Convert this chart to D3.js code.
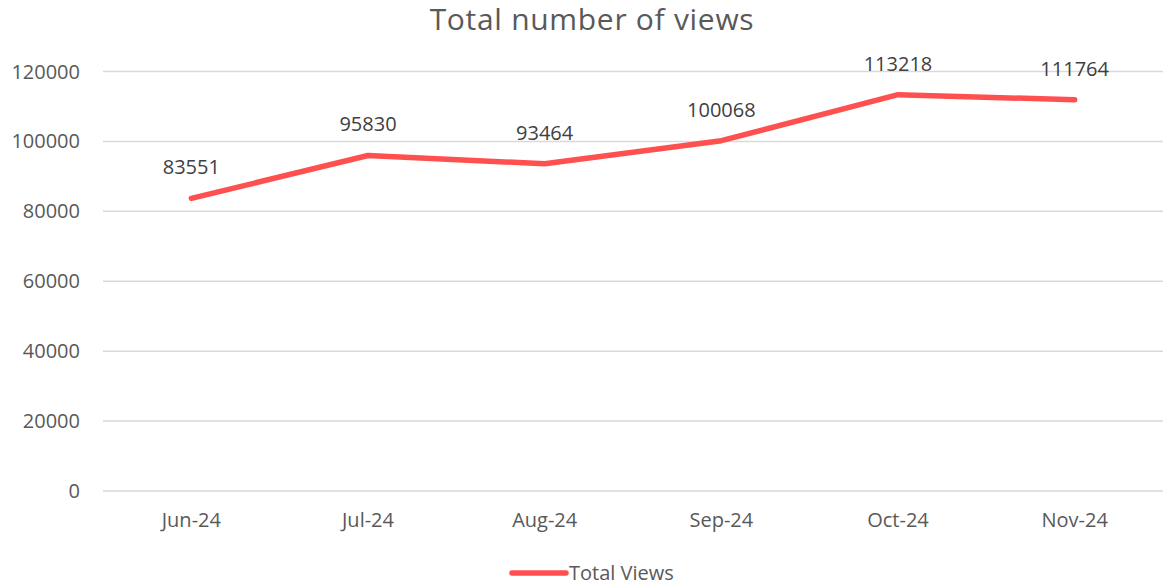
<!DOCTYPE html>
<html>
<head>
<meta charset="utf-8">
<script src="https://cdn.jsdelivr.net/npm/d3@7"></script>
<style>
  body { margin: 0; background: #fff; }
  svg, svg text { font-family: "Open Sans", sans-serif; }
  .tick text { fill: #595959; font-size: 20px; }
  .title { fill: #595959; font-size: 30px; letter-spacing: 0.7px; }
  .data-label { fill: #404040; font-size: 20px; }
  .legend-text { fill: #595959; font-size: 20px; }
</style>
</head>
<body>
<div class="viewsChart"></div>
<script>
var width = 1163,
height = 587,
xLeft = 103,
xRight = 1163,
yTop = 71,
yBottom = 490.5;

var months = ["Jun-24", "Jul-24", "Aug-24", "Sep-24", "Oct-24", "Nov-24"];
var views = [83551, 95830, 93464, 100068, 113218, 111764];
var yTicks = [0, 20000, 40000, 60000, 80000, 100000, 120000];
var seriesName = "Total Views";
var lineColor = "#ff5050";

var canvas = d3.select('div.viewsChart')
				.append('svg')
				.attr('width', width)
				.attr('height', height);

var x = d3.scaleBand()
			.domain(months)
			.range([xLeft, xRight]);

var y = d3.scaleLinear()
			.domain([0, 120000])
			.range([yBottom, yTop]);

// gridlines + y labels
var yAxis = canvas.append("g")
	.attr("transform", "translate(" + xLeft + ",0)")
	.call(d3.axisLeft(y)
			.tickValues(yTicks)
			.tickSize(-(xRight - xLeft))
			.tickPadding(23)
			.tickFormat(d3.format("d")));
yAxis.attr("font-family", null).attr("font-size", null);
yAxis.select(".domain").remove();
yAxis.selectAll(".tick line").attr("stroke", "#d9d9d9").attr("stroke-width", 1.5);
yAxis.selectAll(".tick text").attr("dy", "0.35em");

// x labels
var xAxis = canvas.append("g")
	.attr("transform", "translate(0," + yBottom + ")")
	.call(d3.axisBottom(x).tickSize(0).tickPadding(22));
xAxis.attr("font-family", null).attr("font-size", null);
xAxis.select(".domain").remove();

canvas.append("text")
	.attr("class", "title")
	.attr("x", 592)
	.attr("y", 30)
	.attr("text-anchor", "middle")
	.text("Total number of views");

var line = d3.line()
			.x(function(d, i){ return x(months[i]) + x.bandwidth() / 2; })
			.y(function(d){ return y(d); });

canvas.append("path")
	.datum(views)
	.attr("fill", "none")
	.attr("stroke", lineColor)
	.attr("stroke-width", 5.5)
	.attr("stroke-linecap", "round")
	.attr("stroke-linejoin", "round")
	.attr("d", line);

canvas.selectAll(".data-label")
	.data(views)
	.enter()
	.append("text")
	.attr("class", "data-label")
	.attr("text-anchor", "middle")
	.attr("x", function(d, i){ return x(months[i]) + x.bandwidth() / 2; })
	.attr("y", function(d){ return y(d) - 24; })
	.text(function(d){ return d; });

// legend
var legend = canvas.append("g").attr("transform", "translate(512,573)");
legend.append("line")
	.attr("x1", 0).attr("x2", 54)
	.attr("stroke", lineColor)
	.attr("stroke-width", 5.5)
	.attr("stroke-linecap", "round");
legend.append("text")
	.attr("class", "legend-text")
	.attr("x", 57)
	.attr("dy", "0.35em")
	.text(seriesName);
</script>
</body>
</html>
